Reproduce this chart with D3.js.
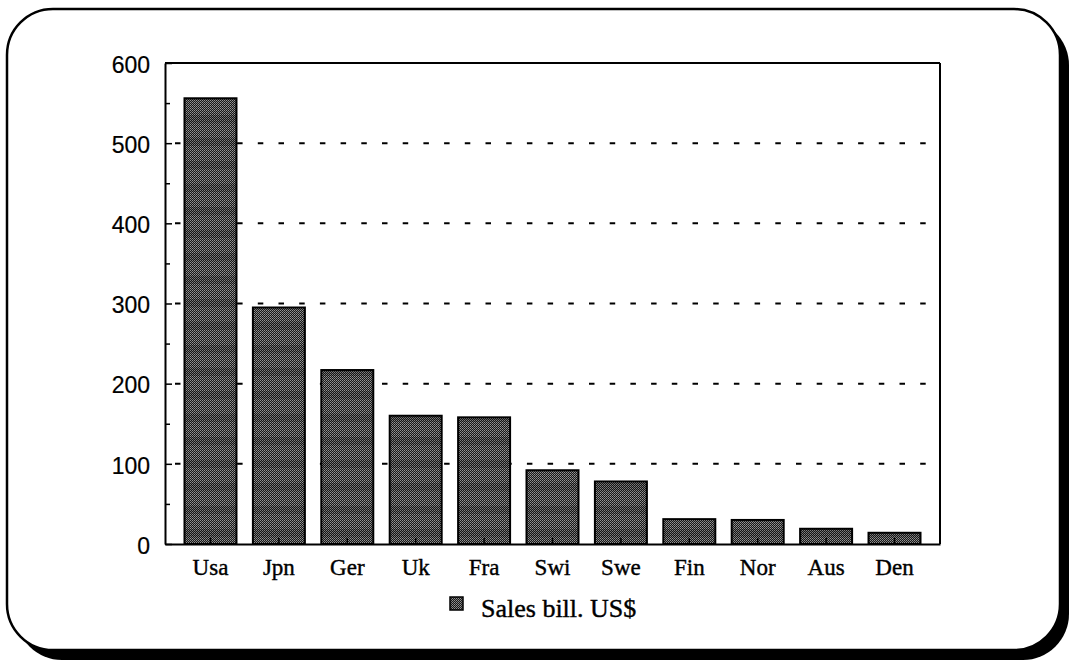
<!DOCTYPE html>
<html>
<head>
<meta charset="utf-8">
<script src="https://cdn.jsdelivr.net/npm/d3@7"></script>
<style>
  body { margin: 0; background: #fff; }
  svg { display: block; }
</style>
</head>
<body>
<div id="main-content"></div>
<script>
// chart data
const countries = ["Usa", "Jpn", "Ger", "Uk", "Fra", "Swi", "Swe", "Fin", "Nor", "Aus", "Den"];
const sales = [556, 295, 217, 160, 158, 92, 78, 31, 30, 19, 14];
const yTicks = [0, 100, 200, 300, 400, 500, 600];
const yMinorTicks = [50, 150, 250, 350, 450, 550];
const gridValues = [100, 200, 300, 400, 500];
const seriesName = "Sales bill. US$";

const width = 1070, height = 661;
const plotLeft = 165, plotRight = 940, plotTop = 63, plotBottom = 544;

const svg = d3.select("#main-content")
  .append("svg")
  .attr("width", width)
  .attr("height", height);

// halftone-ish fill for the bars
const defs = svg.append("defs");
const checker = defs.append("pattern")
  .attr("id", "checker")
  .attr("patternUnits", "userSpaceOnUse")
  .attr("width", 2).attr("height", 2);
checker.append("rect").attr("width", 2).attr("height", 2).attr("fill", "#181818");
checker.append("rect").attr("width", 1).attr("height", 1).attr("fill", "#949494");
checker.append("rect").attr("x", 1).attr("y", 1).attr("width", 1).attr("height", 1).attr("fill", "#787878");

const bands = defs.append("pattern")
  .attr("id", "bands")
  .attr("patternUnits", "userSpaceOnUse")
  .attr("width", 4).attr("height", 23);
bands.append("rect").attr("y", 0).attr("width", 4).attr("height", 8).attr("fill", "#000").attr("opacity", 0.15);

// frame with drop shadow
svg.append("rect")
  .attr("x", 16).attr("y", 19)
  .attr("width", 1053).attr("height", 641)
  .attr("rx", 46).attr("ry", 46)
  .attr("fill", "#000");
svg.append("rect")
  .attr("x", 7).attr("y", 9)
  .attr("width", 1053).attr("height", 641)
  .attr("rx", 46).attr("ry", 46)
  .attr("fill", "#fff")
  .attr("stroke", "#000")
  .attr("stroke-width", 2.5);

// scales
const x = d3.scaleBand()
  .domain(countries)
  .range([plotLeft, plotRight])
  .paddingInner(0.24)
  .paddingOuter(0.285);

const y = d3.scaleLinear()
  .domain([0, 600])
  .range([plotBottom, plotTop]);

// dotted grid lines
svg.append("g")
  .selectAll("line")
  .data(gridValues)
  .enter()
  .append("line")
  .attr("x1", plotLeft + 10)
  .attr("x2", plotRight)
  .attr("y1", d => y(d))
  .attr("y2", d => y(d))
  .attr("stroke", "#000")
  .attr("stroke-width", 2)
  .attr("stroke-dasharray", "5.5 15.2");

// bars
const data = countries.map((c, i) => ({ country: c, value: sales[i] }));
const barG = svg.append("g");
barG.selectAll("rect.bar")
  .data(data)
  .enter()
  .append("rect")
  .attr("class", "bar")
  .attr("x", d => x(d.country))
  .attr("y", d => y(d.value))
  .attr("width", x.bandwidth())
  .attr("height", d => y(0) - y(d.value))
  .attr("fill", "url(#checker)")
  .attr("stroke", "#000")
  .attr("stroke-width", 2);
barG.selectAll("rect.band")
  .data(data)
  .enter()
  .append("rect")
  .attr("class", "band")
  .attr("x", d => x(d.country) + 1)
  .attr("y", d => y(d.value) + 1)
  .attr("width", x.bandwidth() - 2)
  .attr("height", d => Math.max(0, y(0) - y(d.value) - 2))
  .attr("fill", "url(#bands)");

// plot box: top and right edges
svg.append("line")
  .attr("x1", plotLeft).attr("x2", plotRight)
  .attr("y1", plotTop).attr("y2", plotTop)
  .attr("stroke", "#000").attr("stroke-width", 2);
svg.append("line")
  .attr("x1", plotRight).attr("x2", plotRight)
  .attr("y1", plotTop).attr("y2", plotBottom)
  .attr("stroke", "#000").attr("stroke-width", 2);

// y axis
const yAxis = svg.append("g")
  .attr("transform", `translate(${plotLeft},0)`)
  .call(d3.axisLeft(y).tickValues(yTicks).tickSize(-7).tickPadding(15).tickSizeOuter(0));
yAxis.select(".domain").attr("stroke-width", 2);
yAxis.selectAll(".tick line").attr("stroke-width", 1.5);
yAxis.selectAll("text")
  .attr("font-family", "Liberation Sans, sans-serif")
  .attr("font-size", 23)
  .attr("fill", "#000")
  .attr("stroke", "#000")
  .attr("stroke-width", 0.2)
  .attr("dy", "0.4em");

svg.append("g")
  .attr("transform", `translate(${plotLeft},0)`)
  .call(d3.axisLeft(y).tickValues(yMinorTicks).tickSize(-5).tickFormat("").tickSizeOuter(0))
  .call(g => g.select(".domain").remove())
  .selectAll(".tick line").attr("stroke-width", 1.5);

// x axis
const xAxis = svg.append("g")
  .attr("transform", `translate(0,${plotBottom})`)
  .call(d3.axisBottom(x).tickSize(-6).tickSizeOuter(0));
xAxis.select(".domain").attr("stroke-width", 2);
xAxis.selectAll(".tick line").attr("stroke-width", 1.5);
xAxis.selectAll("text")
  .attr("y", 31)
  .attr("dy", 0)
  .attr("font-family", "Liberation Serif, serif")
  .attr("font-size", 23)
  .attr("fill", "#000")
  .attr("stroke", "#000")
  .attr("stroke-width", 0.4);

// legend
const legend = svg.append("g");
legend.append("rect")
  .attr("x", 450).attr("y", 597)
  .attr("width", 13).attr("height", 13)
  .attr("fill", "url(#checker)")
  .attr("stroke", "#000")
  .attr("stroke-width", 1.5);
legend.append("text")
  .attr("x", 481).attr("y", 617)
  .attr("font-family", "Liberation Serif, serif")
  .attr("font-size", 26)
  .attr("fill", "#000")
  .attr("stroke", "#000")
  .attr("stroke-width", 0.4)
  .text(seriesName);
</script>
</body>
</html>
